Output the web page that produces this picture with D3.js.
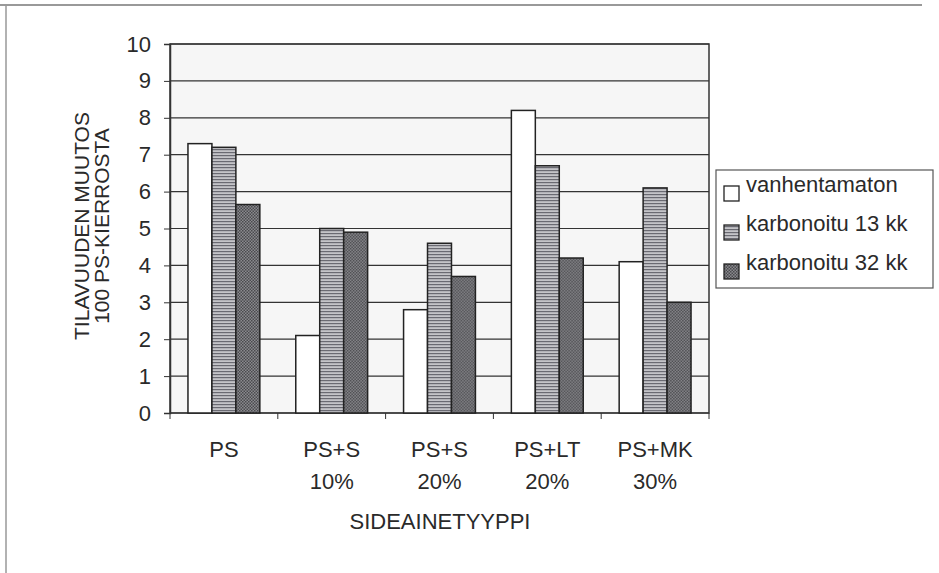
<!DOCTYPE html>
<html>
<head>
<meta charset="utf-8">
<script src="https://cdn.jsdelivr.net/npm/d3@7"></script>
<style>
  html, body { margin: 0; padding: 0; background: #fff; }
  svg text { font-family: "Liberation Sans", Arial, sans-serif; fill: #2a2a2a; }
</style>
</head>
<body>
<div id="chart"></div>
<script>
// Data
const categories = [["PS"], ["PS+S", "10%"], ["PS+S", "20%"], ["PS+LT", "20%"], ["PS+MK", "30%"]];
const seriesNames = ["vanhentamaton", "karbonoitu 13 kk", "karbonoitu 32 kk"];
const vanhentamaton = [7.3, 2.1, 2.8, 8.2, 4.1];
const karbonoitu13 = [7.2, 5.0, 4.6, 6.7, 6.1];
const karbonoitu32 = [5.65, 4.9, 3.7, 4.2, 3.0];
const yTicks = [0, 1, 2, 3, 4, 5, 6, 7, 8, 9, 10];

const seriesValues = [vanhentamaton, karbonoitu13, karbonoitu32];

const width = 939, height = 573;
const margin = { top: 44, left: 170 };
const innerWidth = 709 - margin.left;
const innerHeight = 413 - margin.top;
const fontSize = "22px";

const svg = d3.select("#chart")
  .append("svg")
  .attr("width", width)
  .attr("height", height);

// Patterns for the bar fills
const defs = svg.append("defs");
const stripes = defs.append("pattern")
  .attr("id", "stripes")
  .attr("patternUnits", "userSpaceOnUse")
  .attr("width", 4).attr("height", 3);
stripes.append("rect").attr("width", 4).attr("height", 3).attr("fill", "#c4c4c8");
stripes.append("rect").attr("width", 4).attr("height", 1.2).attr("fill", "#6a6a72");

const hatch = defs.append("pattern")
  .attr("id", "hatch")
  .attr("patternUnits", "userSpaceOnUse")
  .attr("width", 3).attr("height", 3);
hatch.append("rect").attr("width", 3).attr("height", 3).attr("fill", "#8a8a8e");
hatch.append("rect").attr("width", 1.5).attr("height", 1.5).attr("fill", "#4a4a4e");
hatch.append("rect").attr("x", 1.5).attr("y", 1.5).attr("width", 1.5).attr("height", 1.5).attr("fill", "#4a4a4e");

const fills = ["#ffffff", "url(#stripes)", "url(#hatch)"];

// Outer frame (only top and left edges show)
svg.append("line").attr("x1", 0).attr("x2", 922).attr("y1", 5).attr("y2", 5)
  .attr("stroke", "#777").attr("stroke-width", 1.5);
svg.append("line").attr("x1", 6).attr("x2", 6).attr("y1", 5).attr("y2", height)
  .attr("stroke", "#999").attr("stroke-width", 1.5);

const chart = svg.append("g")
  .attr("transform", `translate(${margin.left},${margin.top})`);

const x0 = d3.scaleBand()
  .domain(d3.range(categories.length))
  .range([0, innerWidth]);

// gap width 150%: bars fill the middle 2/3 of each category
const x1 = d3.scaleBand()
  .domain(d3.range(seriesNames.length))
  .range([x0.bandwidth() / 6, x0.bandwidth() * 5 / 6]);

const y = d3.scaleLinear()
  .domain([0, 10])
  .range([innerHeight, 0]);

// Plot background
chart.append("rect")
  .attr("width", innerWidth)
  .attr("height", innerHeight)
  .attr("fill", "#f6f6f6");

// Gridlines
chart.append("g")
  .selectAll("line")
  .data(yTicks)
  .enter()
  .append("line")
  .attr("x1", 0).attr("x2", innerWidth)
  .attr("y1", d => y(d)).attr("y2", d => y(d))
  .attr("stroke", "#333")
  .attr("stroke-width", 1.2);

// Plot border
chart.append("rect")
  .attr("width", innerWidth)
  .attr("height", innerHeight)
  .attr("fill", "none")
  .attr("stroke", "#333")
  .attr("stroke-width", 1.5);

// Bars
const groups = chart.selectAll(".group")
  .data(categories.map((c, i) => i))
  .enter()
  .append("g")
  .attr("class", "group")
  .attr("transform", i => `translate(${x0(i)},0)`);

groups.selectAll("rect")
  .data(i => seriesValues.map((vals, s) => ({ s, v: vals[i] })))
  .enter()
  .append("rect")
  .attr("x", d => x1(d.s))
  .attr("y", d => y(d.v))
  .attr("width", x1.bandwidth())
  .attr("height", d => innerHeight - y(d.v))
  .attr("fill", d => fills[d.s])
  .attr("stroke", "#222")
  .attr("stroke-width", 1.5);

// Y axis
const yAxis = chart.append("g")
  .call(d3.axisLeft(y).tickValues(yTicks).tickSize(6).tickPadding(13));
yAxis.select(".domain").attr("stroke", "#333").attr("stroke-width", 1.5);
yAxis.selectAll(".tick line").attr("stroke", "#333");
yAxis.selectAll("text")
  .style("font-size", fontSize)
  .style("font-family", "Liberation Sans, Arial, sans-serif")
  .attr("fill", "#2a2a2a");

// X axis ticks between categories
const xAxis = chart.append("g")
  .attr("transform", `translate(0,${innerHeight})`);
xAxis.selectAll("line")
  .data(d3.range(categories.length + 1))
  .enter()
  .append("line")
  .attr("x1", i => i * x0.step()).attr("x2", i => i * x0.step())
  .attr("y1", 0).attr("y2", 6)
  .attr("stroke", "#333");

const xLabels = xAxis.selectAll("text")
  .data(categories)
  .enter()
  .append("text")
  .attr("x", (d, i) => x0(i) + x0.bandwidth() / 2)
  .attr("y", 44)
  .attr("text-anchor", "middle")
  .style("font-size", fontSize);
xLabels.selectAll("tspan")
  .data(d => d)
  .enter()
  .append("tspan")
  .attr("x", function () { return d3.select(this.parentNode).attr("x"); })
  .attr("dy", (d, i) => i === 0 ? 0 : 32)
  .text(d => d);

// Axis titles
svg.append("text")
  .attr("x", 440)
  .attr("y", 529)
  .attr("text-anchor", "middle")
  .style("font-size", fontSize)
  .text("SIDEAINETYYPPI");

const yTitle = svg.append("text")
  .attr("transform", "translate(89,226) rotate(-90)")
  .attr("text-anchor", "middle")
  .style("font-size", "21px");
yTitle.append("tspan").attr("x", 0).attr("dy", 0).text("TILAVUUDEN MUUTOS");
yTitle.append("tspan").attr("x", 0).attr("dy", 20).text("100 PS-KIERROSTA");

// Legend
const legend = svg.append("g").attr("transform", "translate(716,170)");
legend.append("rect")
  .attr("width", 217)
  .attr("height", 118)
  .attr("fill", "#fff")
  .attr("stroke", "#555")
  .attr("stroke-width", 1.2);

const items = legend.selectAll(".item")
  .data(seriesNames)
  .enter()
  .append("g")
  .attr("class", "item")
  .attr("transform", (d, i) => `translate(8,${20 + i * 39})`);

items.append("rect")
  .attr("x", 0).attr("y", -4)
  .attr("width", 15).attr("height", 15)
  .attr("fill", (d, i) => fills[i])
  .attr("stroke", "#222")
  .attr("stroke-width", 1.3);

items.append("text")
  .attr("x", 22)
  .attr("y", 2)
  .style("font-size", fontSize)
  .text(d => d);
</script>
</body>
</html>
